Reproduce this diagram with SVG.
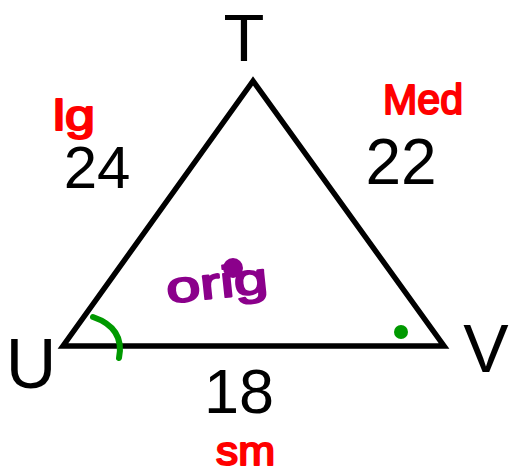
<svg xmlns="http://www.w3.org/2000/svg" width="510" height="472" viewBox="0 0 510 472">
<style>
.lbl{font-family:"Liberation Sans",Arial,sans-serif;fill:#000;text-anchor:middle}
.hand{font-family:"Liberation Sans",Arial,sans-serif;fill:#ff0000;stroke:#ff0000;stroke-width:2;stroke-linejoin:round}
.orig{font-family:"Liberation Sans",Arial,sans-serif;fill:#8b008b;stroke:#8b008b;stroke-width:2;stroke-linejoin:round}
</style>
<rect width="510" height="472" fill="#fff"/>
<g id="connectors">
<polygon points="253,81 63,346 444,346" fill="none" stroke="#000" stroke-width="5.5" stroke-linejoin="miter"/>
</g>
<g id="T"><text class="lbl" x="244" y="61" font-size="67">T</text></g>
<g id="U"><text class="lbl" x="31" y="388" font-size="70">U</text></g>
<g id="V"><text class="lbl" x="486" y="372" font-size="68">V</text></g>
<g id="side-TU"><text class="lbl" x="97" y="188" font-size="60">24</text>
<text class="hand" x="53" y="130" font-size="42" textLength="42" lengthAdjust="spacingAndGlyphs">lg</text></g>
<g id="side-TV"><text class="lbl" x="401" y="184" font-size="64">22</text>
<text class="hand" x="383" y="114" font-size="42" textLength="80" lengthAdjust="spacingAndGlyphs">Med</text></g>
<g id="side-UV"><text class="lbl" x="239" y="413" font-size="63">18</text>
<text class="hand" x="216" y="465" font-size="40" textLength="59" lengthAdjust="spacingAndGlyphs">sm</text></g>
<g id="orig">
<text class="orig" x="166" y="298" font-size="44" textLength="102" lengthAdjust="spacingAndGlyphs" transform="rotate(-6 216 285)">orig</text>
<circle cx="233" cy="268" r="10" fill="#8b008b"/>
</g>
<g id="angle-marks">
<path d="M93,317 Q125,328 119,358" fill="none" stroke="#009900" stroke-width="6" stroke-linecap="round"/>
<circle cx="401" cy="332" r="7" fill="#009900"/>
</g>
</svg>
